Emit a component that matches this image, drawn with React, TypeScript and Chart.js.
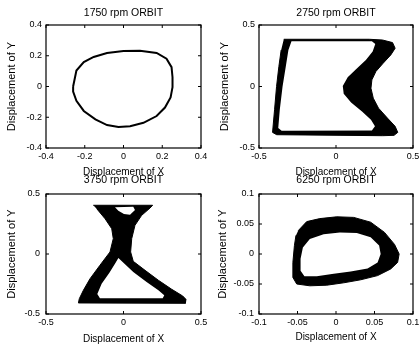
import React, { useEffect, useRef } from 'react';
import { Chart, registerables } from 'chart.js';

Chart.register(...registerables);

type Pt = [number, number];

// ---------- text ----------
const TITLES = ['1750 rpm ORBIT', '2750 rpm ORBIT', '3750 rpm ORBIT', '6250 rpm ORBIT'];
const X_TITLE = 'Displacement of X';
const Y_TITLE = 'Displacement of Y';

// ---------- ticks ----------
const TICKS_1750 = [-0.4, -0.2, 0, 0.2, 0.4];
const LABELS_1750 = ['-0.4', '-0.2', '0', '0.2', '0.4'];
const TICKS_2750 = [-0.5, 0, 0.5];
const LABELS_2750 = ['-0.5', '0', '0.5'];
const TICKS_3750 = [-0.5, 0, 0.5];
const LABELS_3750 = ['-0.5', '0', '0.5'];
const TICKS_6250 = [-0.1, -0.05, 0, 0.05, 0.1];
const LABELS_6250 = ['-0.1', '-0.05', '0', '0.05', '0.1'];

// ---------- orbit data (x, y displacement) ----------
const ORBIT_1750: Pt[] = [
  [-0.26, 0], [-0.243, 0.104], [-0.205, 0.159], [-0.154, 0.192], [-0.085, 0.218],
  [0, 0.231], [0.085, 0.233], [0.171, 0.218], [0.222, 0.181], [0.248, 0.126],
  [0.253, 0.06], [0.253, -0.005], [0.243, -0.071], [0.214, -0.137], [0.171, -0.192],
  [0.103, -0.236], [0.034, -0.258], [-0.026, -0.264], [-0.085, -0.251], [-0.145, -0.214],
  [-0.205, -0.159], [-0.243, -0.093], [-0.26, -0.033], [-0.26, 0],
];

const ORBIT_2750_OUTER: Pt[] = [
  [-0.339, 0.384], [0.216, 0.384], [0.302, 0.378], [0.367, 0.357], [0.384, 0.311],
  [0.356, 0.257], [0.306, 0.189], [0.259, 0.122], [0.233, 0.054], [0.227, -0.014],
  [0.242, -0.095], [0.276, -0.176], [0.334, -0.257], [0.384, -0.324], [0.401, -0.373],
  [0.377, -0.397], [0.302, -0.4], [-0.385, -0.392], [-0.412, -0.373], [-0.399, -0.189],
  [-0.386, 0], [-0.371, 0.162], [-0.356, 0.297],
];
const ORBIT_2750_INNER: Pt[] = [
  [-0.289, 0.368], [0.233, 0.368], [0.255, 0.346], [0.238, 0.284], [0.194, 0.216],
  [0.13, 0.141], [0.076, 0.076], [0.044, 0.005], [0.05, -0.059], [0.098, -0.13],
  [0.169, -0.203], [0.227, -0.27], [0.253, -0.324], [0.233, -0.357], [-0.353, -0.359],
  [-0.375, -0.338], [-0.365, -0.189], [-0.347, 0], [-0.326, 0.162], [-0.309, 0.297],
];

const ORBIT_3750_OUTER: Pt[] = [
  [-0.195, 0.406], [0.188, 0.406], [0.171, 0.383], [0.117, 0.322], [0.074, 0.239],
  [0.053, 0.128], [0.046, 0.017], [0.063, -0.061], [0.139, -0.136], [0.225, -0.219],
  [0.311, -0.294], [0.382, -0.35], [0.403, -0.378], [0.399, -0.411], [-0.291, -0.408],
  [-0.285, -0.372], [-0.259, -0.303], [-0.216, -0.206], [-0.152, -0.094], [-0.087, 0.017],
  [-0.066, 0.128], [-0.076, 0.211], [-0.119, 0.294], [-0.173, 0.378],
];
const ORBIT_3750_HOLE_TOP: Pt[] = [
  [-0.055, 0.389], [0.063, 0.394], [0.074, 0.367], [0.042, 0.328], [0.003, 0.333], [-0.033, 0.361],
];
const ORBIT_3750_HOLE_BOTTOM: Pt[] = [
  [-0.033, -0.033], [0.063, -0.15], [0.149, -0.233], [0.225, -0.303], [0.263, -0.344],
  [0.253, -0.369], [-0.152, -0.369], [-0.169, -0.333], [-0.141, -0.247], [-0.091, -0.156],
  [-0.055, -0.081],
];

const ORBIT_6250_OUTER: Pt[] = [
  [-0.049, 0.039], [-0.038, 0.054], [-0.021, 0.059], [0.001, 0.062], [0.023, 0.061],
  [0.045, 0.053], [0.063, 0.036], [0.076, 0.016], [0.082, 0], [0.08, -0.014],
  [0.071, -0.025], [0.054, -0.036], [0.032, -0.043], [0.01, -0.048], [-0.012, -0.052],
  [-0.034, -0.053], [-0.051, -0.05], [-0.056, -0.039], [-0.056, -0.014], [-0.054, 0.014],
  [-0.052, 0.031],
];
const ORBIT_6250_INNER: Pt[] = [
  [-0.043, 0.011], [-0.034, 0.025], [-0.016, 0.033], [0.005, 0.036], [0.027, 0.035],
  [0.045, 0.028], [0.056, 0.014], [0.058, 0], [0.054, -0.014], [0.041, -0.024],
  [0.019, -0.029], [-0.003, -0.033], [-0.025, -0.037], [-0.041, -0.037], [-0.046, -0.028],
  [-0.046, -0.008],
];

// ---------- layout / styling ----------
const W = 420;
const H = 347;
const FAMILY = '"Liberation Sans", Arial, Helvetica, sans-serif';
const TICK_FONT = 9;
const TITLE_FONT = 10.5;
const X_FONT = 10;
const Y_FONT = 11;

type Kind = 'outline' | 'solid' | 'hole';
interface Shape { pts: Pt[]; kind: Kind }
interface PanelDef {
  title: string;
  ticks: number[];
  labels: string[];
  shapes: Shape[];
  box: [number, number, number, number];
  yTitleX: number;
  titleY: number;
  xTitleY: number;
  yTickPad: number;
}

const PANELS: PanelDef[] = [
  {
    title: TITLES[0], ticks: TICKS_1750, labels: LABELS_1750,
    shapes: [{ pts: ORBIT_1750, kind: 'outline' }],
    box: [46, 25, 201, 148], yTitleX: 12, titleY: 13.5, xTitleY: 172, yTickPad: 4,
  },
  {
    title: TITLES[1], ticks: TICKS_2750, labels: LABELS_2750,
    shapes: [{ pts: ORBIT_2750_INNER, kind: 'hole' }, { pts: ORBIT_2750_OUTER, kind: 'solid' }],
    box: [259, 25, 413, 148], yTitleX: 225, titleY: 13.5, xTitleY: 172, yTickPad: 4,
  },
  {
    title: TITLES[2], ticks: TICKS_3750, labels: LABELS_3750,
    shapes: [
      { pts: ORBIT_3750_HOLE_TOP, kind: 'hole' },
      { pts: ORBIT_3750_HOLE_BOTTOM, kind: 'hole' },
      { pts: ORBIT_3750_OUTER, kind: 'solid' },
    ],
    box: [46, 194, 201, 314], yTitleX: 12, titleY: 180, xTitleY: 339, yTickPad: 6,
  },
  {
    title: TITLES[3], ticks: TICKS_6250, labels: LABELS_6250,
    shapes: [{ pts: ORBIT_6250_INNER, kind: 'hole' }, { pts: ORBIT_6250_OUTER, kind: 'solid' }],
    box: [259, 194, 413, 314], yTitleX: 223, titleY: 180, xTitleY: 337, yTickPad: 5,
  },
];

const framePlugin = {
  id: 'orbitFrame',
  afterDatasetsDraw(chart: any) {
    const { ctx, chartArea: a } = chart;
    const xs = chart.scales.x;
    const ys = chart.scales.y;
    ctx.save();
    ctx.strokeStyle = '#000';
    ctx.lineWidth = 1.2;
    ctx.strokeRect(a.left, a.top, a.right - a.left, a.bottom - a.top);
    ctx.lineWidth = 1;
    ctx.beginPath();
    for (const t of xs.ticks) {
      const px = xs.getPixelForValue(t.value);
      ctx.moveTo(px, a.bottom);
      ctx.lineTo(px, a.bottom - 3);
      ctx.moveTo(px, a.top);
      ctx.lineTo(px, a.top + 3);
    }
    for (const t of ys.ticks) {
      const py = ys.getPixelForValue(t.value);
      ctx.moveTo(a.left, py);
      ctx.lineTo(a.left + 3, py);
      ctx.moveTo(a.right, py);
      ctx.lineTo(a.right - 3, py);
    }
    ctx.stroke();
    ctx.restore();
  },
};

function datasetFor(s: Shape) {
  const base: any = {
    data: s.pts.map(([x, y]) => ({ x, y })),
    pointRadius: 0,
    pointHoverRadius: 0,
    tension: 0,
    spanGaps: true,
  };
  if (s.kind === 'outline') {
    return { ...base, borderColor: '#000', borderWidth: 2, fill: false, backgroundColor: 'rgba(0,0,0,0)' };
  }
  if (s.kind === 'solid') {
    return { ...base, borderColor: '#000', borderWidth: 1, fill: 'shape', backgroundColor: '#000' };
  }
  return { ...base, borderColor: '#fff', borderWidth: 0, fill: 'shape', backgroundColor: '#fff' };
}

function Panel({ p }: { p: PanelDef }) {
  const ref = useRef<HTMLCanvasElement>(null);
  useEffect(() => {
    const [L, T, R, B] = p.box;
    const padLeft = p.yTitleX - (Y_FONT * 1.2) / 2;
    const padTop = p.titleY - (TITLE_FONT * 1.2) / 2;
    const titlePadBottom = T - p.titleY - (TITLE_FONT * 1.2) / 2;
    const xScaleBottom = p.xTitleY + (X_FONT * 1.2) / 2;
    const yWidth = L - padLeft;
    const xHeight = xScaleBottom - B;
    const lo = p.ticks[0];
    const hi = p.ticks[p.ticks.length - 1];

    const zeroPad = (s: any) => {
      s.paddingLeft = 0;
      s.paddingRight = 0;
      s.paddingTop = 0;
      s.paddingBottom = 0;
    };

    const chart = new Chart(ref.current as HTMLCanvasElement, {
      type: 'line',
      data: { datasets: p.shapes.map(datasetFor) },
      options: {
        animation: false,
        responsive: false,
        events: [],
        layout: {
          padding: { left: padLeft, top: padTop, right: W - R, bottom: H - xScaleBottom },
        },
        plugins: {
          legend: { display: false },
          tooltip: { enabled: false },
          title: {
            display: true,
            text: p.title,
            fullSize: false,
            color: '#000',
            font: { family: FAMILY, size: TITLE_FONT, weight: 'normal', lineHeight: 1.2 },
            padding: { top: 0, bottom: titlePadBottom },
          },
        },
        scales: {
          x: {
            type: 'linear',
            min: lo,
            max: hi,
            afterBuildTicks: (s: any) => {
              s.ticks = p.ticks.map((v) => ({ value: v }));
            },
            afterFit: (s: any) => {
              s.height = xHeight;
              zeroPad(s);
            },
            grid: { display: false, drawTicks: false },
            border: { display: false },
            ticks: {
              autoSkip: false,
              maxRotation: 0,
              minRotation: 0,
              padding: 3,
              color: '#000',
              font: { family: FAMILY, size: TICK_FONT },
              callback: (_v: any, i: number) => p.labels[i],
            },
            title: {
              display: true,
              text: X_TITLE,
              color: '#000',
              padding: 0,
              font: { family: FAMILY, size: X_FONT, lineHeight: 1.2 },
            },
          },
          y: {
            type: 'linear',
            min: lo,
            max: hi,
            afterBuildTicks: (s: any) => {
              s.ticks = p.ticks.map((v) => ({ value: v }));
            },
            afterFit: (s: any) => {
              s.width = yWidth;
              zeroPad(s);
            },
            grid: { display: false, drawTicks: false },
            border: { display: false },
            ticks: {
              autoSkip: false,
              padding: p.yTickPad,
              color: '#000',
              font: { family: FAMILY, size: TICK_FONT },
              callback: (_v: any, i: number) => p.labels[i],
            },
            title: {
              display: true,
              text: Y_TITLE,
              color: '#000',
              padding: 0,
              font: { family: FAMILY, size: Y_FONT, lineHeight: 1.2 },
            },
          },
        },
      } as any,
      plugins: [framePlugin],
    });
    return () => chart.destroy();
  }, [p]);
  return (
    <canvas
      ref={ref}
      width={W}
      height={H}
      style={{ position: 'absolute', left: 0, top: 0, width: W, height: H }}
    />
  );
}

export default function App() {
  return (
    <div style={{ position: 'absolute', left: 0, top: 0, width: W, height: H, background: '#fff' }}>
      {PANELS.map((p, i) => (
        <Panel key={i} p={p} />
      ))}
    </div>
  );
}
